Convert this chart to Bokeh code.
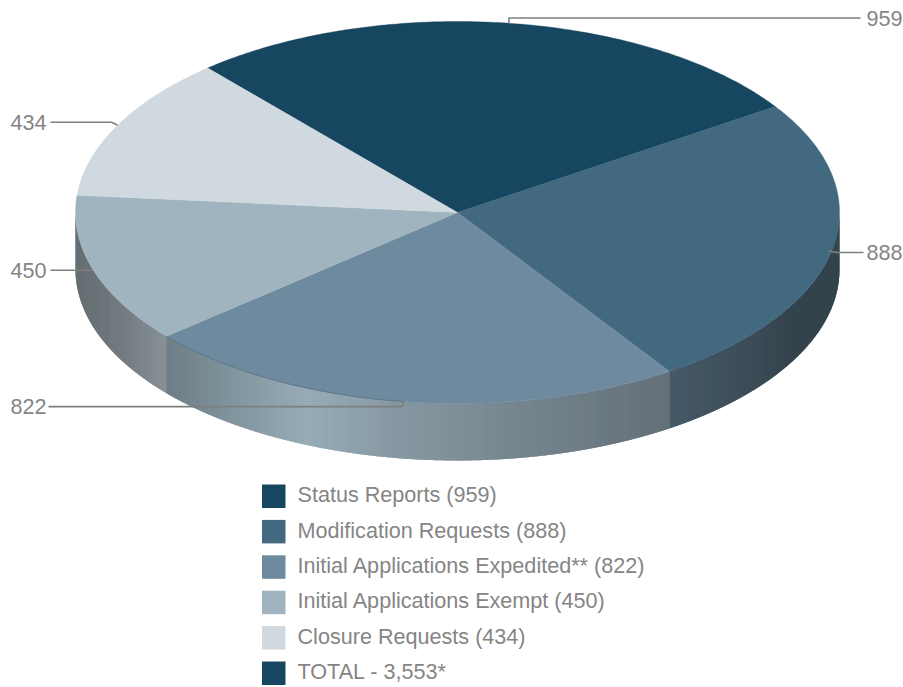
import math
import numpy as np
from bokeh.plotting import figure
from bokeh.models import Range1d
from bokeh.core.properties import value
from bokeh.embed import file_html
from bokeh.resources import INLINE

categories = ["Status Reports", "Modification Requests", "Initial Applications Expedited**",
              "Initial Applications Exempt", "Closure Requests"]
values = [959, 888, 822, 450, 434]
total_label = "TOTAL - 3,553*"
slice_colors = ["#164660", "#42697f", "#6e8a9f", "#a0b4bf", "#d0d9df"]

# page-pixel geometry of the projected pie
CX, CY, RX, RY, DEPTH = 457.0, 212.0, 382.0, 191.0, 57.0
START = -40.85
TXT = "#858585"
LINE = "#7f7f7f"
FONT = value("Liberation Sans")
FS = "21.6px"
STRIP = 6.0

# side wall gradients: slice index -> (x, colour) stops
side_stops = {
    1: [(668, "#35495a"), (740, "#293d49"), (800, "#1f303a"), (840, "#1f303a")],
    3: [(75, "#545e62"), (120, "#626c71"), (166, "#7b858b")],
    2: [(167, "#5e7079"), (240, "#768c97"), (305, "#8da3b0"), (400, "#7a8d97"), (520, "#687983"), (668, "#54626b")],
}


def pt(theta):
    t = np.radians(theta)
    return CX + RX * np.sin(t), CY - RY * np.cos(t)


def hex_rgb(c):
    return [int(c[i:i + 2], 16) for i in (1, 3, 5)]


def grad(x, stops):
    xs = [s[0] for s in stops]
    rgb = np.array([hex_rgb(s[1]) for s in stops], dtype=float)
    return "#%02x%02x%02x" % tuple(int(round(np.interp(x, xs, rgb[:, k]))) for k in range(3))


p = figure(width=903, height=687, x_range=Range1d(0, 903), y_range=Range1d(687, 0),
           output_backend="svg", toolbar_location=None, min_border=0,
           background_fill_color=None, border_fill_color=None, outline_line_color=None)
p.axis.visible = False
p.grid.visible = False

tot = sum(values)
edges = [START]
for v in values:
    edges.append(edges[-1] + 360.0 * v / tot)
mids = [(edges[i] + edges[i + 1]) / 2 for i in range(len(values))]

# side walls: overlapping strips painted in order, so no seams show
xs_s, ys_s, cs_s = [], [], []
for i, stops in side_stops.items():
    a = max(edges[i], 90.0)
    b = min(edges[i + 1], 270.0)
    if i == 1:
        a -= 0.4   # tuck under the neighbouring wall
    if i == 3:
        b += 0.4
    th = [a]
    while th[-1] < b:
        t = th[-1]
        c = abs(math.cos(math.radians(t)))
        th.append(min(b, t + min(1.0, STRIP / max(RX * c, 1e-6))))
    for j in range(len(th) - 1):
        seg = np.array(th[j:j + 3])
        x, y = pt(seg)
        xs_s.append([float(q) for q in x] + [float(q) for q in x[::-1]])
        ys_s.append([float(q) for q in y] + [float(q + DEPTH) for q in y[::-1]])
        cs_s.append(grad(float(x[:2].mean()), stops))
p.patches(xs_s, ys_s, fill_color=cs_s, line_color=None)

# top faces
xs_t, ys_t = [], []
for i in range(len(values)):
    th = np.linspace(edges[i], edges[i + 1], 160)
    x, y = pt(th)
    xs_t.append([CX] + [float(q) for q in x])
    ys_t.append([CY] + [float(q) for q in y])
p.patches(xs_t, ys_t, fill_color=slice_colors, line_color=slice_colors, line_width=0.4)

# faint rim stroke on the expedited slice, left of its leader
th = np.linspace(mids[2], edges[3], 80)
rx, ry = pt(th)
p.line(rx, ry, line_color="#566e7d", line_width=0.8)

# leaders
OUT_R = 863.0
OUT_L = 50.0
lead_x, lead_y = [], []
tx, ty, tt, ta = [], [], [], []
for i, v in enumerate(values):
    ax, ay = pt(mids[i])
    ax, ay = float(ax), float(ay)
    if i == 0:
        elbow_y = 17.5
        lead_x.append([ax, ax, OUT_R - 3])
        lead_y.append([ay, elbow_y, elbow_y])
        tx.append(866); ty.append(elbow_y + 0.5); tt.append(str(v)); ta.append("left")
    elif i == 1:
        lead_x.append([ax - 4, ax + 5, OUT_R])
        lead_y.append([ay + 1, ay + 2.5, ay + 2.5])
        tx.append(866); ty.append(ay + 2.5); tt.append(str(v)); ta.append("left")
    elif i == 2:
        lead_x.append([ax - 2, ax - 2, OUT_L - 2])
        lead_y.append([ay, ay + 5, ay + 5])
        tx.append(46); ty.append(ay + 5); tt.append(str(v)); ta.append("right")
    elif i == 3:
        lead_x.append([ax, OUT_L])
        lead_y.append([ay, ay])
        tx.append(46); ty.append(ay); tt.append(str(v)); ta.append("right")
    else:
        lead_x.append([ax, ax - 6, OUT_L])
        lead_y.append([ay, ay - 3, ay - 3])
        tx.append(46); ty.append(ay - 3); tt.append(str(v)); ta.append("right")
p.multi_line(lead_x, lead_y, line_color=LINE, line_width=1.6)
p.text(tx, ty, text=tt, text_align=ta, text_baseline="middle", text_color=TXT,
       text_font=FONT, text_font_size=FS)

# legend
LX, LY, SW, STEP = 261.5, 484.0, 23.5, 35.4
labels = [f"{c} ({v})" for c, v in zip(categories, values)] + [total_label]
cols = slice_colors + [slice_colors[0]]
rows = list(range(len(labels)))
p.quad(left=[LX] * len(rows), right=[LX + SW] * len(rows),
       top=[LY + r * STEP for r in rows], bottom=[LY + r * STEP + SW for r in rows],
       fill_color=cols, line_color=None)
p.text([297.0] * len(rows), [LY + r * STEP + SW / 2 - 1.5 for r in rows], text=labels,
       text_baseline="middle", text_color=TXT, text_font=FONT, text_font_size=FS)

open("out.html", "w").write(file_html(p, INLINE))
